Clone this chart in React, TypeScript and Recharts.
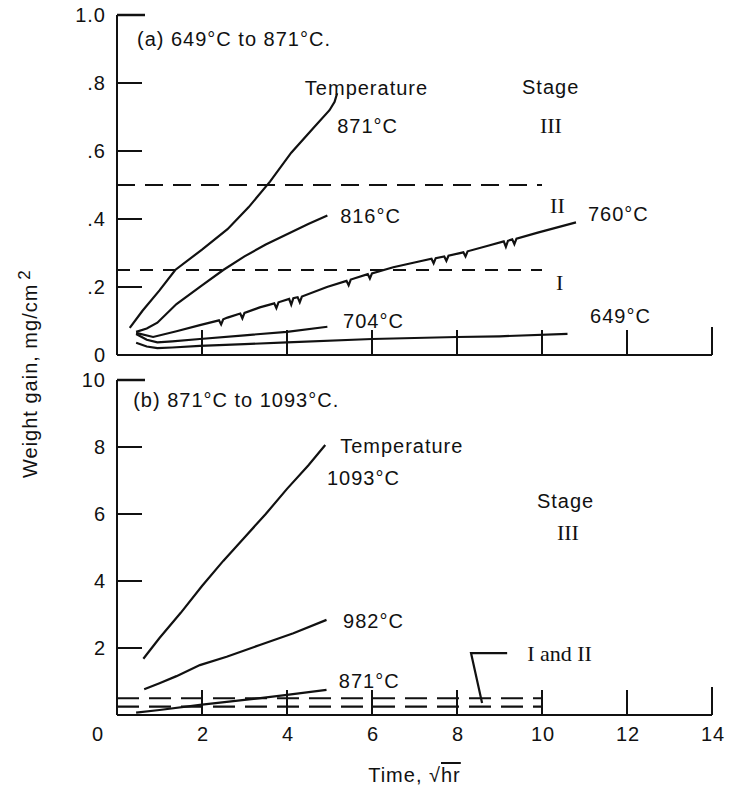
import { LineChart, Line, XAxis, YAxis, ReferenceDot } from 'recharts'

type Pt = [number, number]
type Note = { t: number; w: number; text: string; serif?: boolean }

// Weight gain (mg/cm²) against √hr for each test temperature

// (a) 649°C to 871°C
const gain871a: Pt[] = [
  [0.3, 0.08], [0.6, 0.13], [1.0, 0.19], [1.37, 0.25], [2.0, 0.31], [2.6, 0.37],
  [3.1, 0.435], [3.6, 0.51], [4.1, 0.595], [4.6, 0.665], [5.0, 0.72], [5.12, 0.745], [5.18, 0.77],
]
const gain816a: Pt[] = [
  [0.45, 0.068], [0.7, 0.078], [0.95, 0.095], [1.4, 0.15], [2.0, 0.205], [2.5, 0.25],
  [3.0, 0.29], [3.5, 0.325], [4.0, 0.355], [4.5, 0.385], [4.95, 0.41],
]
// the 760°C trace is noisy, with short downward spikes
const gain760a: Pt[] = [
  [0.45, 0.065], [0.85, 0.053], [1.4, 0.07], [1.95, 0.088], [2.4, 0.102], [2.45, 0.09],
  [2.5, 0.105], [2.6, 0.11], [2.9, 0.122], [2.95, 0.108], [3.0, 0.124], [3.36, 0.14],
  [3.7, 0.152], [3.75, 0.138], [3.8, 0.155], [4.05, 0.165], [4.1, 0.148], [4.15, 0.167],
  [4.25, 0.17], [4.3, 0.155], [4.35, 0.172], [4.94, 0.2], [5.4, 0.218], [5.45, 0.205],
  [5.5, 0.222], [5.9, 0.238], [5.95, 0.225], [6.0, 0.24], [6.5, 0.258], [7.0, 0.272],
  [7.4, 0.283], [7.45, 0.27], [7.5, 0.285], [7.7, 0.29], [7.75, 0.277], [7.8, 0.292],
  [8.15, 0.302], [8.2, 0.29], [8.25, 0.305], [8.75, 0.322], [9.1, 0.334], [9.15, 0.318],
  [9.2, 0.336], [9.3, 0.34], [9.35, 0.326], [9.4, 0.342], [9.9, 0.36], [10.8, 0.39],
]
const gain704a: Pt[] = [
  [0.45, 0.062], [0.7, 0.045], [0.95, 0.037], [1.3, 0.04], [1.95, 0.047], [3.0, 0.058],
  [4.0, 0.068], [4.95, 0.083],
]
const gain649a: Pt[] = [
  [0.45, 0.036], [0.7, 0.025], [0.95, 0.02], [1.3, 0.022], [1.95, 0.027], [3.0, 0.032],
  [4.0, 0.037], [6.0, 0.047], [8.0, 0.053], [9.0, 0.055], [10.6, 0.062],
]

// (b) 871°C to 1093°C
const gain1093b: Pt[] = [
  [0.62, 1.68], [1.0, 2.3], [1.5, 3.05], [2.0, 3.85], [2.5, 4.6], [3.0, 5.3],
  [3.5, 6.0], [4.0, 6.75], [4.5, 7.45], [4.9, 8.06],
]
const gain982b: Pt[] = [
  [0.64, 0.77], [1.0, 0.95], [1.4, 1.16], [1.95, 1.49], [2.58, 1.74], [3.36, 2.09],
  [4.15, 2.44], [4.93, 2.84],
]
const gain871b: Pt[] = [
  [0.45, 0.07], [1.0, 0.15], [1.95, 0.3], [3.0, 0.45], [4.0, 0.6], [4.93, 0.75],
]

// stage boundaries (I/II and II/III), drawn out to √hr = 10
const STAGE_LOW = 0.25
const STAGE_HIGH = 0.5
const STAGE_END = 10

// leader from the "I and II" note down to the dashed pair
const leaderB: Pt[] = [[9.18, 1.85], [8.33, 1.85], [8.59, 0.36]]

const TICKS_T = [0, 2, 4, 6, 8, 10, 12, 14]
const TICKS_A = [0, 0.2, 0.4, 0.6, 0.8, 1.0]
const TICKS_B = [2, 4, 6, 8, 10]

const notesA: Note[] = [
  { t: 0.47, w: 0.909, text: '(a) 649°C to 871°C.' },
  { t: 4.42, w: 0.765, text: 'Temperature' },
  { t: 5.18, w: 0.653, text: '871°C' },
  { t: 9.53, w: 0.768, text: 'Stage' },
  { t: 9.95, w: 0.653, text: 'III', serif: true },
  { t: 5.25, w: 0.388, text: '816°C' },
  { t: 10.19, w: 0.418, text: 'II', serif: true },
  { t: 11.08, w: 0.394, text: '760°C' },
  { t: 10.33, w: 0.191, text: 'I', serif: true },
  { t: 5.32, w: 0.079, text: '704°C' },
  { t: 11.13, w: 0.094, text: '649°C' },
]
const notesB: Note[] = [
  { t: 0.38, w: 9.19, text: '(b) 871°C to 1093°C.' },
  { t: 5.25, w: 7.82, text: 'Temperature' },
  { t: 4.94, w: 6.87, text: '1093°C' },
  { t: 9.88, w: 6.18, text: 'Stage' },
  { t: 10.35, w: 5.22, text: 'III', serif: true },
  { t: 5.32, w: 2.6, text: '982°C' },
  { t: 5.22, w: 0.81, text: '871°C' },
  { t: 9.65, w: 1.61, text: 'I and II', serif: true },
]

const INK = '#111'
const SANS = { fontFamily: '"Liberation Sans", Arial, sans-serif', fontSize: 20, letterSpacing: 1, fill: INK }
const SERIF = { fontFamily: '"Liberation Serif", "Times New Roman", serif', fontSize: 22, fill: INK }

const W = 729
const H = 791
const TOP_H = 370

interface Series {
  key: string
  pts: Pt[]
  dash?: string
}

const toRows = (pts: Pt[]) => pts.map(([t, w]) => ({ t, w }))
const flat = (w: number): Pt[] => [[0, w], [STAGE_END, w]]

const seriesA: Series[] = [
  { key: 's871', pts: gain871a },
  { key: 's816', pts: gain816a },
  { key: 's760', pts: gain760a },
  { key: 's704', pts: gain704a },
  { key: 's649', pts: gain649a },
  { key: 'low', pts: flat(STAGE_LOW), dash: '13 10' },
  { key: 'high', pts: flat(STAGE_HIGH), dash: '18 10' },
]
const seriesB: Series[] = [
  { key: 's1093', pts: gain1093b },
  { key: 's982', pts: gain982b },
  { key: 's871', pts: gain871b },
  { key: 'low', pts: flat(STAGE_LOW), dash: '22 10' },
  { key: 'high', pts: flat(STAGE_HIGH), dash: '22 10' },
  { key: 'leader', pts: leaderB },
]

// inward tick marks, numbers outside the frame
function YTick(props: any) {
  const { x, y, payload, fmt, top } = props
  const v = payload.value as number
  return (
    <g>
      {v !== 0 && (
        <line x1={x} x2={x + (v === top ? 28 : 25)} y1={y} y2={y} stroke={INK} strokeWidth={v === top ? 2.5 : 2} />
      )}
      <text x={x - 11} y={y + 7} textAnchor="end" style={SANS}>{fmt(v)}</text>
    </g>
  )
}

function XTick(props: any) {
  const { x, y, payload, labelled } = props
  const v = payload.value as number
  return (
    <g>
      {v !== 0 && <line x1={x} x2={x} y1={y} y2={y - (v === 14 ? 28 : 25)} stroke={INK} strokeWidth={2} />}
      {labelled && (
        <text x={v === 0 ? x - 19 : x + 1} y={y + 26} textAnchor="middle" style={SANS}>{v}</text>
      )}
    </g>
  )
}

function TimeLabel(props: any) {
  const vb = props.viewBox
  return (
    <text x={vb.x + vb.width / 2} y={vb.y + 67} textAnchor="middle" style={SANS}>
      {'Time, √'}
      <tspan style={{ textDecoration: 'overline' }}>hr</tspan>
    </text>
  )
}

function NoteText({ viewBox, note }: { viewBox: any; note: Note }) {
  return (
    <text x={viewBox.x} y={viewBox.y} style={note.serif ? SERIF : SANS}>{note.text}</text>
  )
}

interface PanelProps {
  height: number
  margin: { top: number; right: number; bottom: number; left: number }
  xAxisHeight: number
  yMax: number
  yTicks: number[]
  yFmt: (v: number) => string
  series: Series[]
  notes: Note[]
  labelled: boolean
}

function Panel({ height, margin, xAxisHeight, yMax, yTicks, yFmt, series, notes, labelled }: PanelProps) {
  return (
    <LineChart width={W} height={height} margin={margin}>
      <XAxis
        type="number"
        dataKey="t"
        domain={[0, 14]}
        ticks={TICKS_T}
        interval={0}
        height={xAxisHeight}
        tickSize={0}
        tickMargin={0}
        tickLine={false}
        axisLine={{ stroke: INK, strokeWidth: 2 }}
        tick={(p: any) => <XTick {...p} labelled={labelled} />}
        label={labelled ? (p: any) => <TimeLabel {...p} /> : undefined}
      />
      <YAxis
        type="number"
        dataKey="w"
        domain={[0, yMax]}
        ticks={yTicks}
        interval={0}
        width={117}
        tickSize={0}
        tickMargin={0}
        tickLine={false}
        axisLine={{ stroke: INK, strokeWidth: 2 }}
        tick={(p: any) => <YTick {...p} fmt={yFmt} top={yMax} />}
      />
      {series.map((s) => (
        <Line
          key={s.key}
          name={s.key}
          data={toRows(s.pts)}
          dataKey="w"
          type="linear"
          stroke={INK}
          strokeWidth={2.2}
          strokeDasharray={s.dash}
          dot={false}
          activeDot={false}
          isAnimationActive={false}
        />
      ))}
      {notes.map((n) => (
        <ReferenceDot
          key={n.text + n.t}
          x={n.t}
          y={n.w}
          r={0}
          fill="none"
          stroke="none"
          ifOverflow="visible"
          label={(p: any) => <NoteText viewBox={p.viewBox} note={n} />}
        />
      ))}
    </LineChart>
  )
}

const fmtA = (v: number) => (v === 0 ? '0' : v === 1 ? '1.0' : v.toFixed(1).replace(/^0/, ''))
const fmtB = (v: number) => String(v)

export default function App() {
  return (
    <div style={{ position: 'absolute', left: 0, top: 0, width: W, height: H, background: '#fff' }}>
      <div style={{ position: 'absolute', left: 0, top: 0 }}>
        <Panel
          height={TOP_H}
          margin={{ top: 15, right: 17, bottom: 14, left: 0 }}
          xAxisHeight={1}
          yMax={1}
          yTicks={TICKS_A}
          yFmt={fmtA}
          series={seriesA}
          notes={notesA}
          labelled={false}
        />
      </div>
      <div style={{ position: 'absolute', left: 0, top: TOP_H }}>
        <Panel
          height={H - TOP_H}
          margin={{ top: 10, right: 17, bottom: 0, left: 0 }}
          xAxisHeight={76}
          yMax={10}
          yTicks={TICKS_B}
          yFmt={fmtB}
          series={seriesB}
          notes={notesB}
          labelled
        />
      </div>
      <svg style={{ position: 'absolute', left: 0, top: 0, pointerEvents: 'none' }} width={60} height={H}>
        <text transform="translate(37,478) rotate(-90)" style={SANS}>
          Weight gain, mg/cm
          <tspan dx={4} dy={-7} fontSize={17}>2</tspan>
        </text>
      </svg>
    </div>
  )
}
